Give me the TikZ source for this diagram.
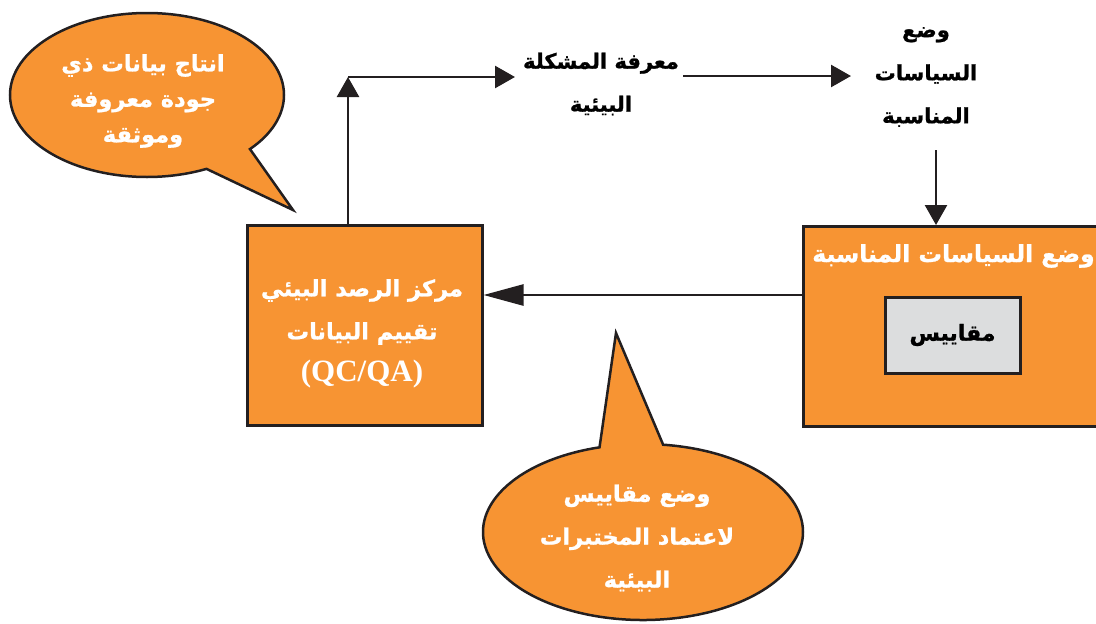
\documentclass[tikz,border=0pt]{standalone}
\usepackage{fontspec}
\setmainfont{Liberation Serif}
\newfontfamily\arabicfont[Script=Arabic, BoldFeatures={FakeBold=1}]{DejaVu Sans}
\TeXXeTstate=1
\usetikzlibrary{shapes.callouts,arrows.meta}
\definecolor{boxorange}{HTML}{F79433}
\definecolor{boxgray}{HTML}{DCDDDE}
\definecolor{ink}{HTML}{231F20}
\newcommand\artxt[1]{\beginR#1\endR}
\begin{document}
\begin{tikzpicture}[x=1pt,y=-1pt,
  arr/.style={draw=ink, line width=2.6pt, -{Triangle[length=20pt,width=22pt]}},
  arrlong/.style={draw=ink, line width=2.6pt, -{Triangle[length=40pt,width=21pt]}},
  obox/.style={draw=ink, line width=3pt, fill=boxorange, rectangle, inner sep=0pt},
  gbox/.style={draw=ink, line width=3pt, fill=boxgray, rectangle, inner sep=0pt,
    font=\arabicfont\bfseries\fontsize{22}{30}\selectfont, text=black},
  bubble/.style={ellipse callout, draw=ink, line width=2.5pt, fill=boxorange, inner sep=0pt},
  txtw/.style={align=center, text=white, inner sep=0pt,
    font=\arabicfont\bfseries\fontsize{22.5}{43}\selectfont},
  txtwb/.style={align=center, text=white, inner sep=0pt,
    font=\arabicfont\bfseries\fontsize{22.5}{35.5}\selectfont},
  txtb/.style={align=center, text=black, inner sep=0pt,
    font=\arabicfont\bfseries\fontsize{21}{43}\selectfont},
  qcqa/.style={text=white, inner sep=0pt, font=\bfseries\fontsize{31}{36}\selectfont}
]
\useasboundingbox (0,0) rectangle (1096,624);

% speech bubbles
\node[bubble, minimum width=274pt, minimum height=164pt,
  callout absolute pointer={(293,210)}, callout pointer arc=23] (b1) at (147,95) {};
\node[txtwb] (b1t) at (143,101) {\artxt{انتاج بيانات ذي}\\\artxt{جودة معروفة}\\\artxt{وموثقة}};

\node[bubble, minimum width=320pt, minimum height=176pt,
  callout absolute pointer={(616,333)}, callout pointer arc=23] (b2) at (643,532) {};
\node[txtw] (b2t) at (637,538) {\artxt{وضع مقاييس}\\\artxt{لاعتماد المختبرات}\\\artxt{البيئية}};

% left box
\node[obox, minimum width=235pt, minimum height=200pt] (lb) at (364.5,325) {};
\node[txtw] (lbt) at (362,312) {\artxt{مركز الرصد البيئي}\\\artxt{تقييم البيانات}};
\node[qcqa] (lbq) at (362,374) {(QC/QA)};

% right box
\node[obox, minimum width=300pt, minimum height=200pt, anchor=north west] (rb) at (802,225) {};
\node[txtw, anchor=east, font=\arabicfont\bfseries\fontsize{23.5}{43}\selectfont] (rbt) at (1095,256) {\artxt{وضع السياسات المناسبة}};
\node[gbox, minimum width=135pt, minimum height=76pt] (gb) at (952.5,335) {\artxt{مقاييس}};

% free texts
\node[txtb] (mt) at (601,84) {\artxt{معرفة المشكلة}\\\artxt{البيئية}};
\node[txtb] (rt) at (926,77) {\artxt{وضع}\\\artxt{السياسات}\\\artxt{المناسبة}};

% connectors
\coordinate (c1) at (348,77);
\coordinate (c2) at (515,77);
\coordinate (c3) at (683,76);
\coordinate (c4) at (851,76);
\coordinate (c5) at (936,150);
\coordinate (c6) at (700,295);

\draw[arr] (lb.north -| c1) -- (c1);
\draw[arr] (c1) -- (c2);
\draw[arr] (c3) -- (c4);
\draw[arr] (c5) -- (c5 |- rb.north);
\draw[arrlong] (rb.west |- c6) -- (lb.east |- c6);
\end{tikzpicture}
\end{document}
